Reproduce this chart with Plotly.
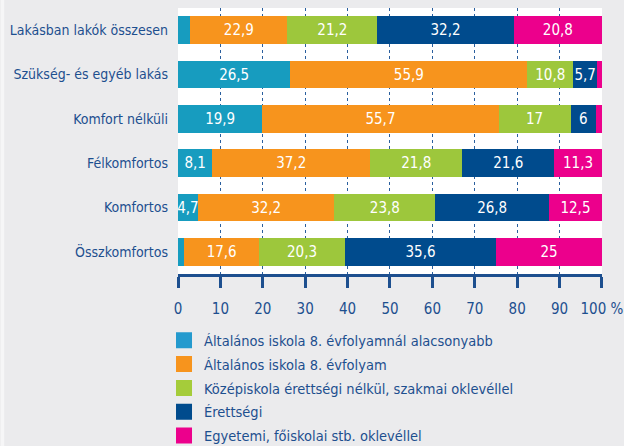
import plotly.graph_objects as go

categories = ["Lakásban lakók összesen", "Szükség- és egyéb lakás", "Komfort nélküli",
              "Félkomfortos", "Komfortos", "Összkomfortos"]
series_names = ["Általános iskola 8. évfolyamnál alacsonyabb",
                "Általános iskola 8. évfolyam",
                "Középiskola érettségi nélkül, szakmai oklevéllel",
                "Érettségi",
                "Egyetemi, főiskolai stb. oklevéllel"]
alacsonyabb = [2.9, 26.5, 19.9, 8.1, 4.7, 1.5]
nyolc_osztaly = [22.9, 55.9, 55.7, 37.2, 32.2, 17.6]
szakmai = [21.2, 10.8, 17.0, 21.8, 23.8, 20.3]
erettsegi = [32.2, 5.7, 6.0, 21.6, 26.8, 35.6]
felsofoku = [20.8, 1.1, 1.4, 11.3, 12.5, 25.0]
tick_vals = [0, 10, 20, 30, 40, 50, 60, 70, 80, 90, 100]
tick_text = ["0", "10", "20", "30", "40", "50", "60", "70", "80", "90", "100 %"]

colors = ["#179cbf", "#f7941d", "#9dc73c", "#004b8d", "#ec008c"]
legend_colors = ["#249ace", "#f7941d", "#a5cc3a", "#004b8d", "#ec008c"]
series = [alacsonyabb, nyolc_osztaly, szakmai, erettsegi, felsofoku]

FONT = "DejaVu Sans Condensed, Liberation Sans Narrow, sans-serif"
TXT = "#1d4f8f"

def fmt(v):
    if v < 4:
        return ""
    return f"{v:g}".replace(".", ",")

fig = go.Figure()
for i, (name, vals) in enumerate(zip(series_names, series)):
    fig.add_trace(go.Bar(
        y=categories, x=vals, name=name, orientation="h",
        marker=dict(color=colors[i], line=dict(width=0)),
        text=[fmt(v) for v in vals], textposition="inside",
        insidetextanchor="middle", textangle=0,
        textfont=dict(color="white", size=15, family=FONT),
        width=0.62, legendgroup=f"g{i}", showlegend=False,
        hoverinfo="x+y+name",
    ))
    fig.add_trace(go.Scatter(
        x=[None], y=[None], mode="markers", name=name,
        marker=dict(symbol="square", size=16, color=legend_colors[i]),
        legendgroup=f"g{i}", showlegend=True,
    ))

fig.update_layout(
    width=624, height=446,
    barmode="stack",
    paper_bgcolor="#ebebed", plot_bgcolor="white",
    margin=dict(l=177.5, r=22, t=8, b=172, autoexpand=False),
    font=dict(family=FONT, color=TXT, size=15),
    uniformtext=dict(minsize=15, mode="show"),
    showlegend=True,
    legend=dict(
        x=-0.033, xanchor="left", y=-0.189, yanchor="top",
        traceorder="grouped", tracegroupgap=2,
        font=dict(size=14.5, color=TXT, family=FONT),
        bgcolor="rgba(0,0,0,0)", itemsizing="trace",
    ),
    xaxis=dict(
        range=[0, 100.01], tickvals=tick_vals, ticktext=tick_text,
        showgrid=True, gridcolor="#2a5f9e", griddash="dot", gridwidth=1.3,
        zeroline=False, showline=True, linecolor="#1d4f8f", linewidth=2.5,
        ticks="outside", ticklen=11, tickwidth=2.5, tickcolor="#1d4f8f",
        ticklabelstandoff=8, ticklabeloverflow="allow",
        tickfont=dict(size=15, color=TXT, family=FONT),
        fixedrange=True, automargin=False,
    ),
    yaxis=dict(
        autorange="reversed", showgrid=False, zeroline=False, showline=False,
        ticks="", ticklabelstandoff=9, automargin=False,
        tickfont=dict(size=14, color=TXT, family=FONT),
        fixedrange=True,
    ),
    shapes=[dict(type="rect", xref="paper", yref="paper",
                 x0=(0 - 177.5) / 424.5, x1=(3.5 - 177.5) / 424.5,
                 y0=-172 / 266, y1=1 + 8 / 266,
                 fillcolor="#f6f6f7", line=dict(width=0), layer="below")],
)

fig.write_html("out.html", config={"displayModeBar": False},
               post_script="document.body.style.margin='0';document.body.style.padding='0';")
